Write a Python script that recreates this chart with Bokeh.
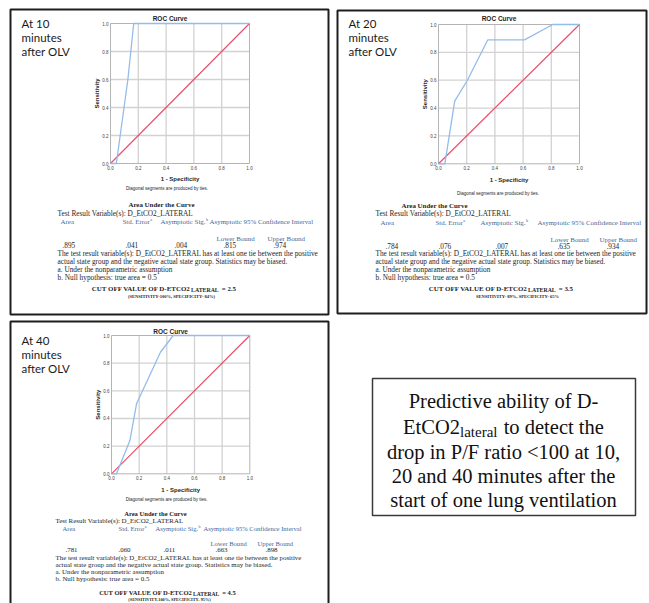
import math
from bokeh.plotting import figure
from bokeh.models import Range1d
from bokeh.core.properties import value
from bokeh.embed import file_html
from bokeh.resources import INLINE

# ---------------- data ----------------
ticks = [0.0, 0.2, 0.4, 0.6, 0.8, 1.0]
tick_labels = ["0.0", "0.2", "0.4", "0.6", "0.8", "1.0"]
grid_ticks = [0.2, 0.4, 0.6, 0.8]

minutes = ["10", "20", "40"]

fpr_10 = [0.0, 0.042, 0.125, 0.167, 1.0]
tpr_10 = [0.0, 0.0, 0.60, 1.0, 1.0]
fpr_20 = [0.0, 0.045, 0.115, 0.205, 0.35, 0.61, 0.81, 1.0]
tpr_20 = [0.0, 0.0, 0.45, 0.60, 0.89, 0.89, 1.0, 1.0]
fpr_40 = [0.0, 0.036, 0.133, 0.181, 0.354, 0.446, 1.0]
tpr_40 = [0.0, 0.0, 0.24, 0.506, 0.879, 1.0, 1.0]

area = [".895", ".784", ".781"]
std_error = [".041", ".076", ".060"]
asym_sig = [".004", ".007", ".011"]
lower_bound = [".815", ".635", ".663"]
upper_bound = [".974", ".934", ".898"]
cutoff = ["2.5", "3.5", "4.5"]
sens_spec = ["(SENSITIVITY-100%, SPECIFICITY- 84%)",
             "SENSITIVITY- 89%, SPECIFICITY- 65%",
             "(SENSITIVITY-100%, SPECIFICITY- 95%)"]

note_lines = ["The test result variable(s): D_EtCO2_LATERAL has at least one tie between the positive",
              "actual state group and the negative actual state group. Statistics may be biased.",
              "a. Under the nonparametric assumption",
              "b. Null hypothesis: true area = 0.5"]

box_lines = ["Predictive ability of D-", None,
             "drop in P/F ratio <100 at 10,",
             "20 and 40 minutes after the",
             "start of one lung ventilation"]

# ---------------- canvas ----------------
W, H, M = 649, 603, 0
SERIF = value("Liberation Serif")
SANS = value("Liberation Sans")
CAL = value("Lato")
INK = "#1e1e1e"
BLUE = "#45699a"

p = figure(width=W, height=H, x_range=Range1d(M, M + W), y_range=Range1d(M + H, M),
           x_axis_type=None, y_axis_type=None, output_backend="svg",
           toolbar_location=None, min_border=0, outline_line_color=None,
           background_fill_color="white", border_fill_color="white")

# ROC frames in page pixels: (left, right, y of 0, y of 1)
frames = {"r1": (110, 249, 163, 23), "r2": (438, 579, 163.3, 24), "r3": (111, 249.3, 473.3, 335)}
xr, yr = {}, {}
for k, (x0, x1, yb, yt) in frames.items():
    w = x1 - x0
    h = yb - yt
    xr[k + "x"] = Range1d((M - x0) / w, (M + W - x0) / w)
    yr[k + "y"] = Range1d((yb - (M + H)) / h, (yb - M) / h)
p.extra_x_ranges = xr
p.extra_y_ranges = yr


def T(x, y, s, size, font=SERIF, bold=False, color=INK, align="left",
      baseline="middle", angle=0.0, xo=0, yo=0, rng=None):
    kw = {}
    if rng:
        kw = dict(x_range_name=rng + "x", y_range_name=rng + "y")
    if not isinstance(x, list):
        x, y, s = [x], [y], [s]
    p.text(x=x, y=y, text=s, text_font=font, text_font_size=f"{size}px",
           text_font_style="bold" if bold else "normal", text_color=color,
           text_align=align, text_baseline=baseline, angle=angle,
           x_offset=xo, y_offset=yo, **kw)


def box(l, r, t, b, color="#1e1e1e", lw=2.0):
    p.quad(left=[l], right=[r], top=[t], bottom=[b], fill_color=None,
           line_color=color, line_width=lw)


# panel borders
box(10, 328, 9, 314)
box(337, 646, 10, 313)
box(10, 328, 321, 620)
box(372, 635, 378, 515, color="#3a3a3a", lw=1.5)


def roc(k, fpr, tpr, title_dy, xlab_dy, note_dx, note_dy):
    kw = dict(x_range_name=k + "x", y_range_name=k + "y")
    n = len(grid_ticks)
    p.segment(x0=grid_ticks, y0=[0] * n, x1=grid_ticks, y1=[1] * n,
              line_color="#d2d2d2", line_width=1.3, **kw)
    p.segment(x0=[0] * n, y0=grid_ticks, x1=[1] * n, y1=grid_ticks,
              line_color="#d2d2d2", line_width=1.3, **kw)
    p.quad(left=[0], right=[1], bottom=[0], top=[1], fill_color=None,
           line_color="#b4b4b4", line_width=1, **kw)
    p.line([0, 1], [0, 1], line_color="#ea4f6c", line_width=1.2, **kw)
    p.line(fpr, tpr, line_color="#94bce9", line_width=1.3, **kw)
    T(ticks, [0] * 6, tick_labels, 4.5, font=SANS, color="#444", align="center",
      baseline="top", yo=2, rng=k)
    T([0] * 6, ticks, tick_labels, 4.5, font=SANS, color="#444", align="right",
      xo=-2, rng=k)
    T(0.5, 1, "ROC Curve", 6.5, font=SANS, bold=True, align="center", xo=-10,
      yo=title_dy, rng=k)
    T(0.5, 0, "1 - Specificity", 6, font=SANS, bold=True, align="center",
      yo=xlab_dy, rng=k)
    T(0, 0.5, "Sensitivity", 6, font=SANS, bold=True, align="center",
      angle=math.pi / 2, xo=-14, rng=k)
    T(0.5, 0, "Diagonal segments are produced by ties.", 4.5, font=SANS,
      align="center", xo=note_dx, yo=note_dy, rng=k)


roc("r1", fpr_10, tpr_10, -5, 15, -13, 25)
roc("r2", fpr_20, tpr_20, -6, 16, -11, 29.5)
roc("r3", fpr_40, tpr_40, -4, 16, -14, 26)

# "At xx minutes after OLV"
for i, (lx, ly) in enumerate([(21, 23), (348, 23), (21, 339.5)]):
    for j, s in enumerate(["At " + minutes[i], "minutes", "after OLV"]):
        T(lx, ly + 14 * j, s, 11.5, font=CAL, color="#1a1a1a")

# AUC tables
layouts = [
    dict(head=(161, 204), tr=(57, 212.5), tr2=127, hdr_y=221, hdr_x=[60, 122, 160, 209],
         lu_y=238, lu_x=[216, 267], val_y=244.5, val_x=[62, 125, 174, 223, 273],
         lx=57, ly=[253, 261, 269, 277], xa=190, cy=288, sens=(171, 296), fs=7.3),
    dict(head=(434, 205), tr=(375, 213), tr2=445, hdr_y=222, hdr_x=[380, 435, 480, 537],
         lu_y=239, lu_x=[550, 599], val_y=245, val_x=[385, 438, 495, 557, 606],
         lx=375, ly=[253, 261, 269, 277], xa=527, cy=288, sens=(517, 296), fs=7.3),
    dict(head=(155, 513), tr=(55, 520), tr2=121, hdr_y=528, hdr_x=[62, 118, 155, 203],
         lu_y=543, lu_x=[210, 257], val_y=549, val_x=[65, 118, 163, 215, 265],
         lx=55, ly=[557, 564, 571, 578], xa=192, cy=592, sens=(169, 599), fs=6.9),
]

for i, L in enumerate(layouts):
    fs = L["fs"]
    hfs = fs * 0.95
    T(L["head"][0], L["head"][1], "Area Under the Curve", fs * 0.95, bold=True, align="center")
    T(L["tr"][0], L["tr"][1], "Test Result Variable(s):", fs)
    T(L["tr2"], L["tr"][1], "D_EtCO2_LATERAL", fs)
    hx, hy = L["hdr_x"], L["hdr_y"]
    T(hx[0], hy, "Area", hfs, color=BLUE)
    T(hx[1], hy, "Std. Error", hfs, color=BLUE)
    T(hx[1] + 3.944 * hfs + 0.5, hy - 2, "a", hfs * 0.6, color=BLUE)
    T(hx[2], hy, "Asymptotic Sig.", hfs, color=BLUE)
    T(hx[2] + 6.5 * hfs + 0.5, hy - 2, "b", hfs * 0.6, color=BLUE)
    T(hx[3], hy, "Asymptotic 95% Confidence Interval", hfs, color=BLUE)
    T(L["lu_x"], [L["lu_y"]] * 2, ["Lower Bound", "Upper Bound"], hfs, color=BLUE)
    T(L["val_x"], [L["val_y"]] * 5,
      [area[i], std_error[i], asym_sig[i], lower_bound[i], upper_bound[i]], fs)
    T([L["lx"]] * 4, L["ly"], note_lines, fs)
    # cut-off line with subscript
    fm, fsub = fs * 0.95, fs * 0.8
    T(L["xa"], L["cy"], "CUT OFF VALUE OF D-ETCO2", fm, bold=True, align="right")
    T(L["xa"] + 0.5, L["cy"] + 1.5, "LATERAL", fsub, bold=True)
    T(L["xa"] + 0.5 + 4.83 * fsub + 2.5, L["cy"], "= " + cutoff[i], fm, bold=True)
    T(L["sens"][0], L["sens"][1], sens_spec[i], fs * 0.62, bold=True, align="center")

# description box
bfs = 20.5
box_y = [400, 426, 451, 475, 499]
bcx = 503
for s, y in zip(box_lines, box_y):
    if s is not None:
        T(bcx, y, s, bfs, color="#111", align="center")
sub_fs = 15
w1 = 2.778 * bfs
w2 = 2.5 * sub_fs + 1
w3 = 4.89 * bfs
gap = 0.25 * bfs
xs = bcx - (w1 + w2 + gap + w3) / 2
T(xs, box_y[1], "EtCO2", bfs, color="#111")
T(xs + w1, box_y[1] + 5, "lateral", sub_fs, color="#111")
T(xs + w1 + w2 + gap, box_y[1], "to detect the", bfs, color="#111")

open("out.html", "w").write(file_html(p, INLINE))
